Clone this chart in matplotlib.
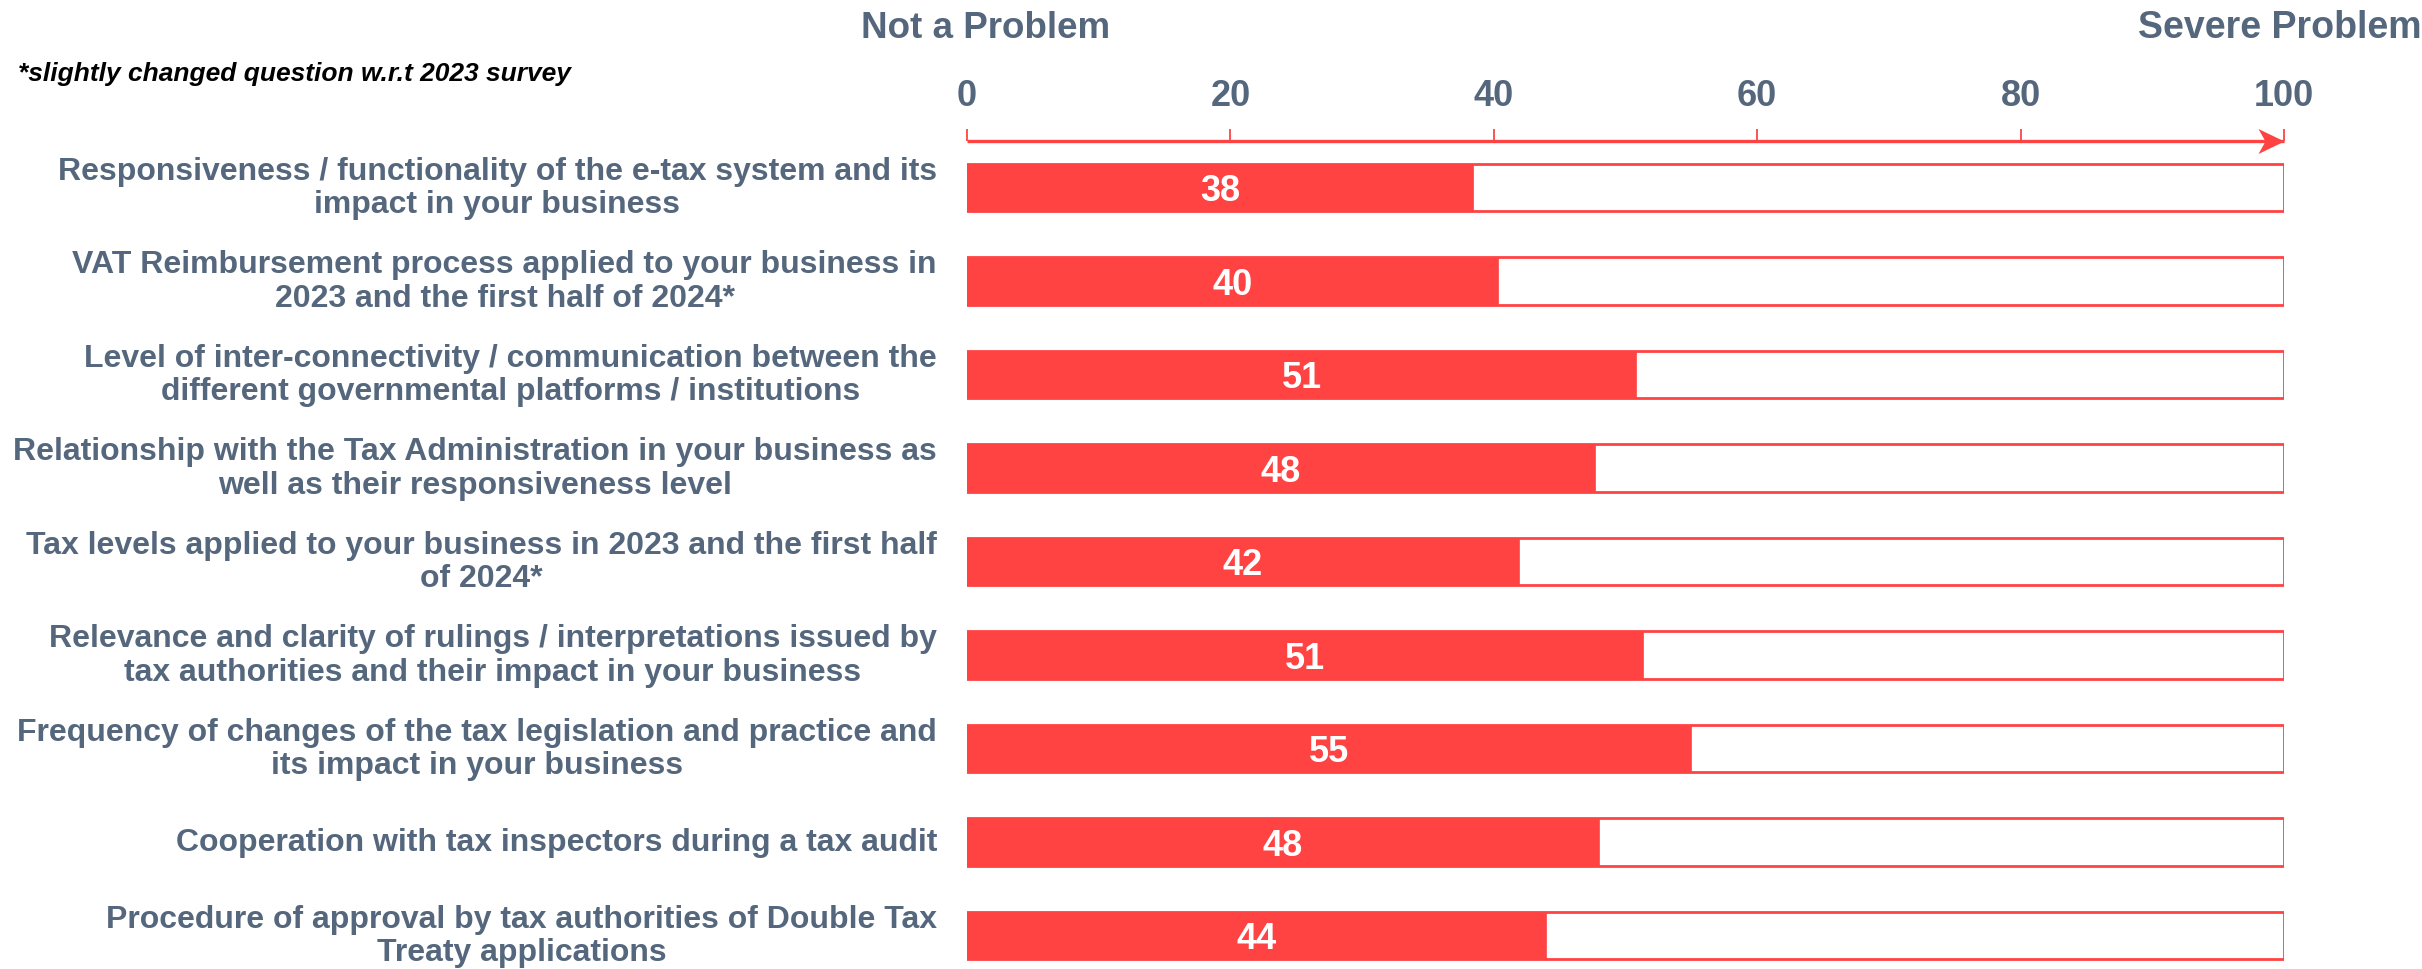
import matplotlib
matplotlib.use("Agg")
import matplotlib.pyplot as plt
from matplotlib.path import Path

plt.rcParams['font.family'] = ['Liberation Sans', 'DejaVu Sans']

categories = [
    "Responsiveness / functionality of the e-tax system and its\nimpact in your business",
    "VAT Reimbursement process applied to your business in\n2023 and the first half of 2024*",
    "Level of inter-connectivity / communication between the\ndifferent governmental platforms / institutions",
    "Relationship with the Tax Administration in your business as\nwell as their responsiveness level",
    "Tax levels applied to your business in 2023 and the first half\nof 2024*",
    "Relevance and clarity of rulings / interpretations issued by\ntax authorities and their impact in your business",
    "Frequency of changes of the tax legislation and practice and\nits impact in your business",
    "Cooperation with tax inspectors during a tax audit",
    "Procedure of approval by tax authorities of Double Tax\nTreaty applications",
]
values = [38.4, 40.3, 50.8, 47.7, 41.9, 51.3, 55.0, 48.0, 44.0]
tick_values = [0, 20, 40, 60, 80, 100]
scale_max = 100
left_label = "Not a Problem"
right_label = "Severe Problem"
footnote = "*slightly changed question w.r.t 2023 survey"

RED = '#FF4343'
TXT = '#55677D'

W, H = 2422, 970
fig = plt.figure(figsize=(W / 100, H / 100), dpi=100)
x0_px, x1_px = 967, 2284
ax = fig.add_axes([x0_px / W, 0, (x1_px - x0_px) / W, 1])
ax.set_xlim(0, scale_max)
first_c, step = 188.5, 93.5
ax.set_ylim((H - first_c) / step, -first_c / step)
ax.axis('off')

ys = list(range(len(categories)))
bh = 0.513
ax.barh(ys, [scale_max] * len(ys), height=bh, color='white', edgecolor=RED, linewidth=2, zorder=1)
ax.barh(ys, values, height=bh, color=RED, edgecolor=RED, linewidth=0.5, zorder=2)
for y, v in zip(ys, values):
    ax.annotate(f"{v:.0f}", xy=(v / 2, y), xycoords='data', xytext=(0, -3),
                textcoords='offset pixels', ha='center', va='center', color='white',
                fontsize=26, fontweight='bold', zorder=3)

# category labels
for y, c in zip(ys, categories):
    ax.annotate(c, xy=(0, y), xycoords='data', xytext=(-30, 0), textcoords='offset pixels',
                ha='right', va='center', multialignment='center', color=TXT,
                fontsize=23, fontweight='bold', linespacing=1.15)

# top scale with arrow
xt = ax.get_xaxis_transform()
y_axis = 1 - 142 / H
y_tick_top = 1 - 130 / H
ax.plot([0, scale_max], [y_axis, y_axis], transform=xt, color=RED, lw=2.4, clip_on=False,
        solid_capstyle='butt')
ax.vlines(tick_values, y_axis, y_tick_top, transform=xt, color=RED, lw=1.3, clip_on=False)
head = Path([(0, 0), (-26, 12.5), (-19, 0), (-26, -12.5), (0, 0)],
            [Path.MOVETO, Path.LINETO, Path.LINETO, Path.LINETO, Path.CLOSEPOLY])
ax.plot([scale_max], [y_axis], transform=xt, marker=head, markersize=52 * 0.72,
        color=RED, markeredgewidth=0, clip_on=False)
for t in tick_values:
    ax.text(t, 1 - 96 / H, f"{t}", transform=xt, ha='center', va='center', color=TXT,
            fontsize=26, fontweight='bold')

ax.text(1.4, 1 - 28 / H, left_label, transform=xt, ha='center', va='center', color=TXT,
        fontsize=26.5, fontweight='bold')
fig.text(1.0, 1 - 28 / H, right_label, ha='right', va='center', color=TXT,
         fontsize=27, fontweight='bold')
fig.text(18 / W, 1 - 74 / H, footnote, ha='left', va='center', color='black',
         fontsize=19, fontweight='bold', fontstyle='italic')

fig.savefig('out.png', dpi=100)
